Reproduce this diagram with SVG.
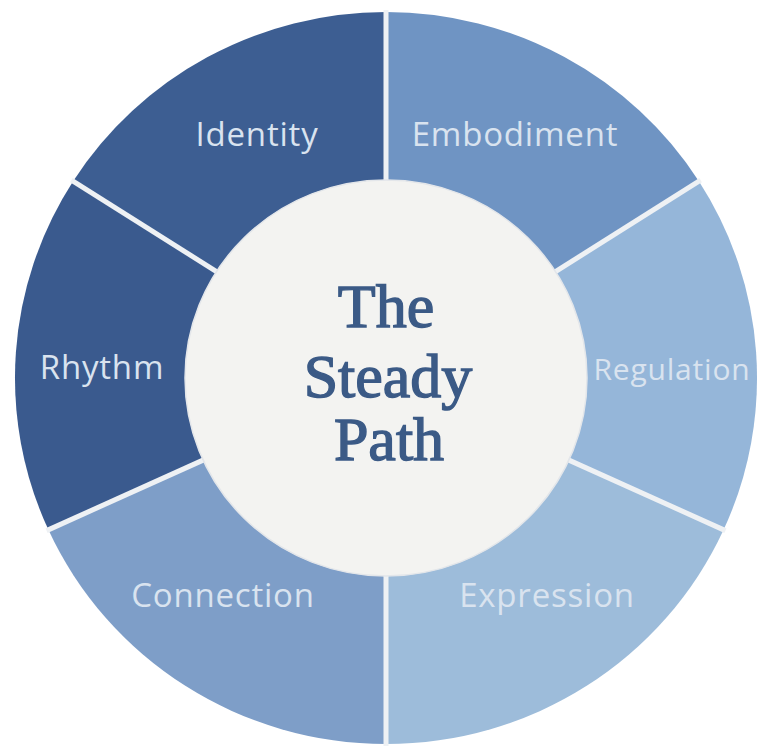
<svg xmlns="http://www.w3.org/2000/svg" width="772" height="753" viewBox="0 0 772 753">
  <style>
    .seg { stroke: none; }
    .lbl { font-family: "Open Sans", "Noto Sans", sans-serif; font-size: 33px; font-weight: 500; fill: #d9e3ef; text-anchor: middle; letter-spacing: 0.8px; }
    .title { font-family: "Liberation Serif", "Times New Roman", serif; font-weight: normal; font-size: 62px; fill: #3b5a86; stroke: #3b5a86; stroke-width: 1.4px; text-anchor: middle; }
    .div { stroke: #eef1f4; stroke-width: 5; stroke-linecap: butt; }
  </style>
  <rect width="772" height="753" fill="#ffffff"/>
  <g id="ring">
    <g id="identity">
      <path class="seg" fill="#3d5e92" d="M386 378 L73.1 181.3 A371 366 0 0 1 386 12 Z"/>
      <text class="lbl" x="257" y="146">Identity</text>
    </g>
    <g id="embodiment">
      <path class="seg" fill="#6f94c3" d="M386 378 L386 12 A371 366 0 0 1 698.9 181.3 Z"/>
      <text class="lbl" x="515" y="146">Embodiment</text>
    </g>
    <g id="regulation">
      <path class="seg" fill="#95b6d9" d="M386 378 L698.9 181.3 A371 366 0 0 1 723.6 529.8 Z"/>
      <text class="lbl" x="672" y="380" style="font-size:30px">Regulation</text>
    </g>
    <g id="expression">
      <path class="seg" fill="#9dbcda" d="M386 378 L723.6 529.8 A371 366 0 0 1 386 744 Z"/>
      <text class="lbl" x="547" y="607">Expression</text>
    </g>
    <g id="connection">
      <path class="seg" fill="#7e9ec8" d="M386 378 L386 744 A371 366 0 0 1 48.4 529.8 Z"/>
      <text class="lbl" x="223" y="607">Connection</text>
    </g>
    <g id="rhythm">
      <path class="seg" fill="#3a5a8e" d="M386 378 L48.4 529.8 A371 366 0 0 1 73.1 181.3 Z"/>
      <text class="lbl" x="102" y="379">Rhythm</text>
    </g>
  </g>
  <g id="connectors">
    <line class="div" x1="386" y1="180" x2="386" y2="10"/>
    <line class="div" x1="555.5" y1="271.6" x2="700.6" y2="180.2"/>
    <line class="div" x1="568.9" y1="460.1" x2="725.4" y2="530.6"/>
    <line class="div" x1="386" y1="576" x2="386" y2="746"/>
    <line class="div" x1="203.1" y1="460.1" x2="46.6" y2="530.6"/>
    <line class="div" x1="216.5" y1="271.6" x2="71.4" y2="180.2"/>
  </g>
  <g id="center">
    <ellipse cx="386" cy="378" rx="201" ry="198" fill="#f3f3f1" stroke="#e3e6ea" stroke-width="1.5"/>
    <text class="title" x="386" y="327">The</text>
    <text class="title" x="388" y="397">Steady</text>
    <text class="title" x="389" y="460">Path</text>
  </g>
</svg>
